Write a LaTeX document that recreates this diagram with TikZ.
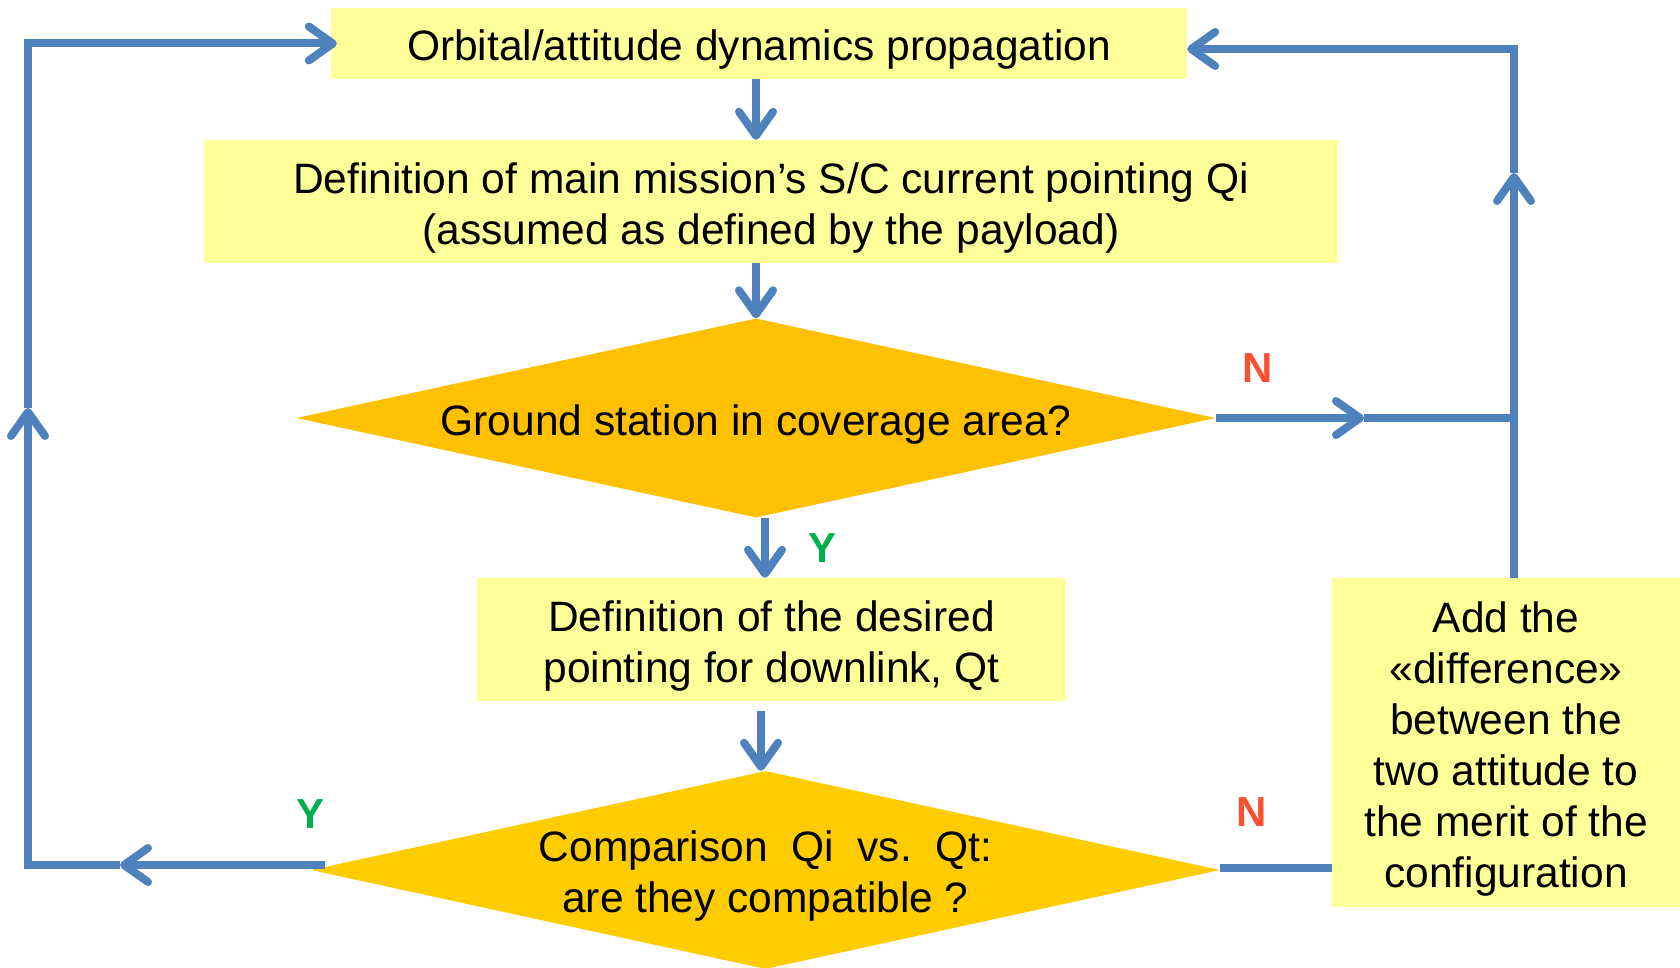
\documentclass[tikz,border=0pt]{standalone}
\usepackage{fontspec}
\setmainfont{Liberation Sans}
\usetikzlibrary{shapes.geometric,arrows.meta,calc}
\definecolor{lineblue}{HTML}{4F81BD}
\definecolor{boxyellow}{HTML}{FFFF99}
\definecolor{diaone}{HTML}{FFC000}
\definecolor{diatwo}{HTML}{FFCC00}
\definecolor{nred}{HTML}{FA5032}
\definecolor{ygreen}{HTML}{00B050}
\newcommand{\txtdown}{\rule{0pt}{43pt}}
\tikzset{
  procbox/.style={fill=boxyellow, inner sep=0pt, align=center,
    font=\fontsize{42.5}{51}\selectfont},
  decbox/.style={diamond, inner sep=-8pt, align=center,
    font=\fontsize{42.5}{51}\selectfont},
  flow/.style={draw=lineblue, line width=8pt},
  arr/.style={flow, -{Straight Barb[length=24pt,width=34pt,round]}},
  lab/.style={font=\fontsize{42}{50}\selectfont\bfseries, anchor=base},
}
\begin{document}
\begin{tikzpicture}[x=1pt,y=-1pt]
\useasboundingbox (0,0) rectangle (1680,968);

% process boxes
\node[procbox, minimum width=856pt, minimum height=71pt] (b1) at (759,43.5)
  {\txtdown Orbital/attitude dynamics propagation};
\node[procbox, minimum width=1134pt, minimum height=123pt] (b2) at (771,201.5)
  {\txtdown Definition of main mission’s S/C current pointing Qi\\(assumed as defined by the payload)};
\node[decbox, fill=diaone, aspect=4.62, minimum width=919pt, minimum height=199pt] (d1) at (756,418)
  {\txtdown Ground station in coverage area?};
\node[procbox, minimum width=589pt, minimum height=123pt] (b3) at (771.5,639.5)
  {\txtdown Definition of the desired\\pointing for downlink, Qt};
\node[decbox, fill=diatwo, aspect=4.59, minimum width=909pt, minimum height=198pt] (d2) at (765.5,870)
  {\txtdown Comparison\ \ Qi\ \ vs.\ \ Qt:\\are they compatible ?};
\node[procbox, minimum width=348pt, minimum height=329pt] (b5) at (1506,742.5)
  {\txtdown Add the\\«difference»\\between the\\two attitude to\\the merit of the\\configuration};

% helper coordinates
\coordinate (rtop) at (1514,49);
\coordinate (rjoin) at (1514,418);
\coordinate (rmid) at (1514,173);
\coordinate (nmid) at (1364,418);
\coordinate (ltop) at (28,43.5);
\coordinate (lmid) at (28,408);
\coordinate (lbot) at (28,865);
\coordinate (ymid) at (120,865);

% main flow
\draw[arr] ([xshift=-3pt]b1.south) -- ([xshift=-15pt]b2.north);
\draw[arr] ([xshift=-15pt]b2.south) -- (d1.north);
\draw[arr] ([xshift=9pt]d1.south) -- ([xshift=-6.5pt]b3.north);
\draw[arr] ([xshift=-10.5pt,yshift=-10pt]b3.south) -- ([xshift=-4.5pt]d2.north);

% right loop (N)
\draw[arr] (d1.east) -- (nmid);
\draw[flow] (nmid) -- (rjoin);
\draw[flow] ([yshift=2pt]d2.east) -- ([yshift=2pt]d2.east -| b5.west);
\draw[arr] (b5.north -| rjoin) -- (rmid);
\draw[arr] (rmid) -- (rtop) -- (rtop -| b1.east);

% left loop (Y)
\draw[arr] ([xshift=14pt,yshift=5pt]d2.west) -- (ymid);
\draw[arr] (ymid) -- (lbot) -- (lmid);
\draw[arr] (lmid) -- (ltop) -- ([xshift=6pt]b1.west);

% labels
\node[lab, text=nred] (n1) at (1258,382) {N};
\node[lab, text=ygreen] (y1) at (822,562) {Y};
\node[lab, text=ygreen] (y2) at (311,828) {Y};
\node[lab, text=nred] (n2) at (1252,826) {N};
\end{tikzpicture}
\end{document}
